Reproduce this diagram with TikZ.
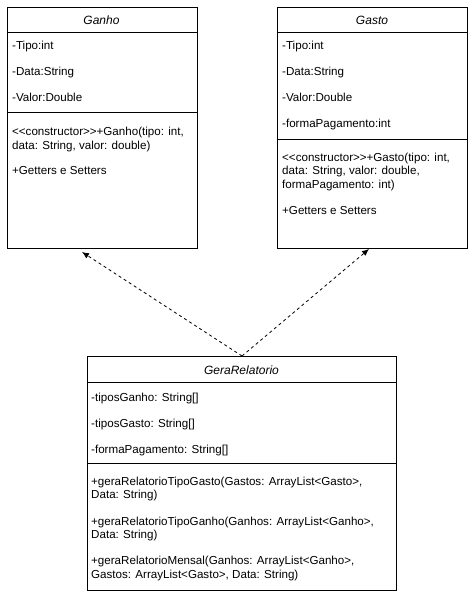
\documentclass[tikz,border=0pt]{standalone}
\usepackage{fontspec}
\setmainfont{Liberation Sans}
\usetikzlibrary{arrows.meta}
\newcommand{\stereo}[1]{\textless{}\textless{}#1\textgreater{}\textgreater{}}
\begin{document}
\begin{tikzpicture}[x=1pt,y=-1pt,
  classbox/.style={draw=black, line width=1pt, inner sep=0pt, anchor=north west},
  divider/.style={draw=black, line width=1pt},
  member/.style={anchor=base west, inner sep=0pt, font=\fontsize{11.6}{13}\selectfont},
  classtitle/.style={anchor=base, inner sep=0pt, font=\fontsize{12}{14}\selectfont\itshape},
  dep/.style={draw=black, line width=0.8pt, dash pattern=on 3pt off 3pt,
    -{Latex[length=7pt,width=6pt]}}]
\useasboundingbox (0,0) rectangle (473,596);

% ---- class Ganho ----
\node[classbox, minimum width=190, minimum height=241] (ganho) at (7,7) {};
\node[classtitle] (ganhoT) at (101.5,25) {Ganho};
\draw[divider] (7,33) -- (197,33);
\node[member] (ganhoA1) at (12,50) {-Tipo:int};
\node[member] (ganhoA2) at (12,76) {-Data:String};
\node[member] (ganhoA3) at (12,102) {-Valor:Double};
\draw[divider] (7,113) -- (197,113);
\node[member] (ganhoM1) at (12,136) {\stereo{constructor}+Ganho(tipo: int,};
\node[member] (ganhoM2) at (12,149.5) {data: String, valor: double)};
\node[member] (ganhoM3) at (12,174) {+Getters e Setters};

% ---- class Gasto ----
\node[classbox, minimum width=190, minimum height=241] (gasto) at (277,7) {};
\node[classtitle] (gastoT) at (372,25) {Gasto};
\draw[divider] (277,33) -- (467,33);
\node[member] (gastoA1) at (282,50) {-Tipo:int};
\node[member] (gastoA2) at (282,76) {-Data:String};
\node[member] (gastoA3) at (282,102) {-Valor:Double};
\node[member] (gastoA4) at (282,128) {-formaPagamento:int};
\draw[divider] (277,140) -- (467,140);
\node[member] (gastoM1) at (282,161.5) {\stereo{constructor}+Gasto(tipo: int,};
\node[member] (gastoM2) at (282,175) {data: String, valor: double,};
\node[member] (gastoM3) at (282,188.5) {formaPagamento: int)};
\node[member] (gastoM4) at (282,214) {+Getters e Setters};

% ---- class GeraRelatorio ----
\node[classbox, minimum width=309, minimum height=234] (gera) at (87,356) {};
\node[classtitle] (geraT) at (241.5,374) {GeraRelatorio};
\draw[divider] (87,382) -- (396,382);
\node[member] (geraA1) at (91,401) {-tiposGanho: String[]};
\node[member] (geraA2) at (91,427) {-tiposGasto: String[]};
\node[member] (geraA3) at (91,453) {-formaPagamento: String[]};
\draw[divider] (87,463) -- (396,463);
\node[member] (geraM1) at (91,485) {+geraRelatorioTipoGasto(Gastos: ArrayList\textless{}Gasto\textgreater{},};
\node[member] (geraM2) at (91,498.5) {Data: String)};
\node[member] (geraM3) at (91,525) {+geraRelatorioTipoGanho(Ganhos: ArrayList\textless{}Ganho\textgreater{},};
\node[member] (geraM4) at (91,538.5) {Data: String)};
\node[member] (geraM5) at (91,564.5) {+geraRelatorioMensal(Ganhos: ArrayList\textless{}Ganho\textgreater{},};
\node[member] (geraM6) at (91,578) {Gastos: ArrayList\textless{}Gasto\textgreater{}, Data: String)};

% ---- dependencies ----
\coordinate (ganhoTip) at (82,252);
\coordinate (gastoTip) at (369,249);
\draw[dep] (gera.north) -- (ganhoTip);
\draw[dep] (gera.north) -- (gastoTip);
\end{tikzpicture}
\end{document}
